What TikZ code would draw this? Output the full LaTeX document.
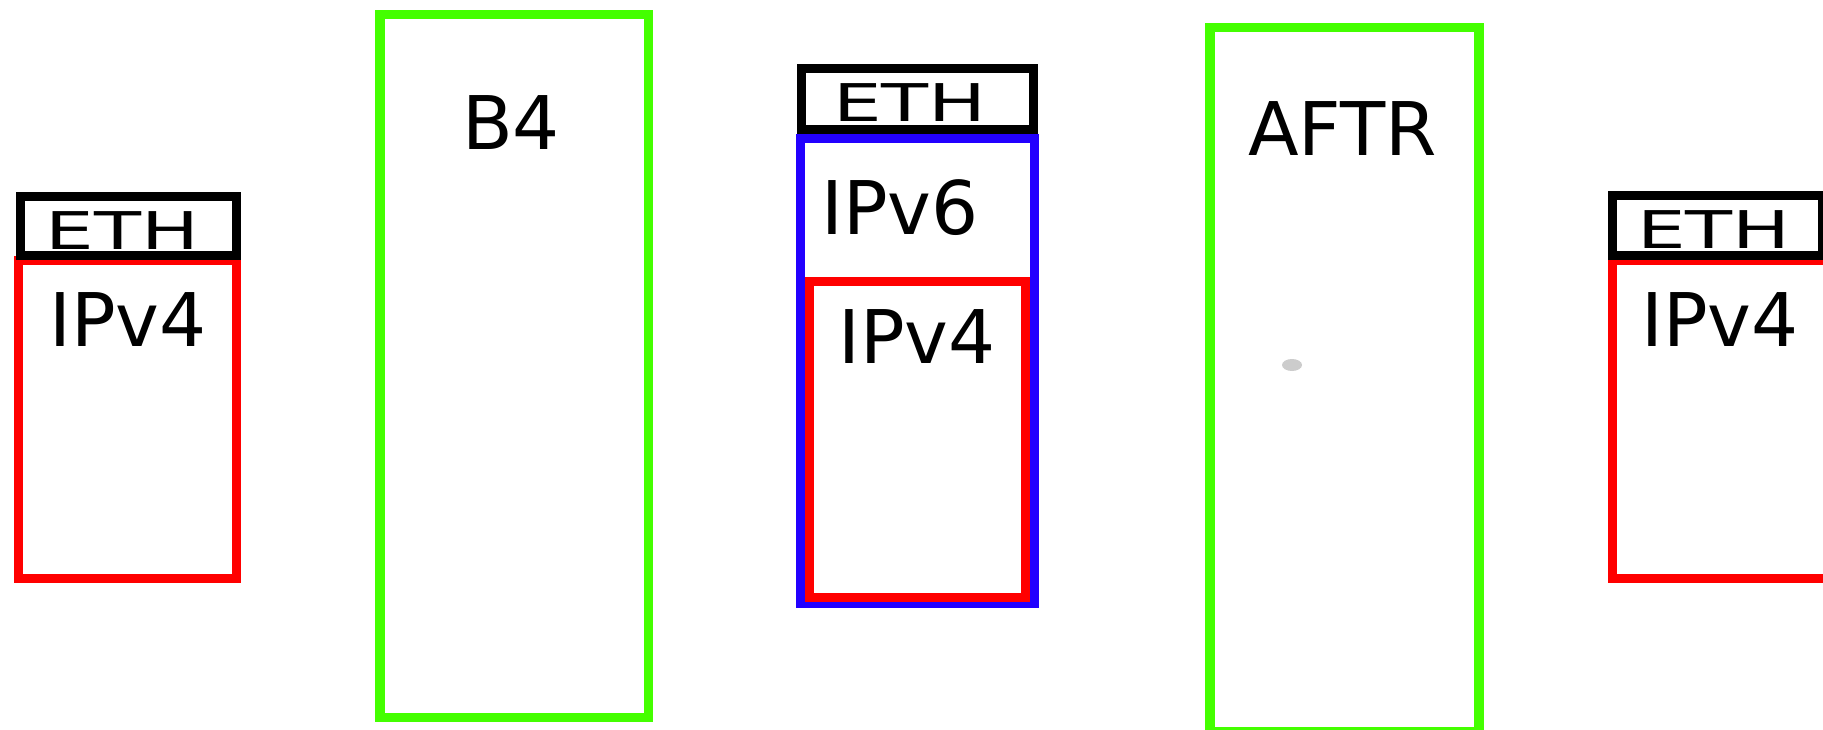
\documentclass[tikz,border=0pt]{standalone}
\usepackage{fontspec}
\setmainfont{DejaVu Sans}
\definecolor{gbox}{RGB}{68,255,0}
\definecolor{bbox}{RGB}{34,0,255}
\definecolor{rbox}{RGB}{255,0,0}
\definecolor{dotgray}{RGB}{204,204,204}
\tikzset{
  ethbox/.style={draw=black, line width=9pt},
  v4box/.style={draw=rbox, line width=9pt},
  v6box/.style={draw=bbox, line width=9pt},
  nodebox/.style={draw=gbox, line width=9.5pt},
  bigtxt/.style={inner sep=0pt, anchor=base, font=\fontsize{74}{80}\selectfont},
  ethtxt/.style={inner sep=0pt, anchor=base, font=\fontsize{52}{56}\selectfont}
}
\begin{document}
\begin{tikzpicture}[x=1pt,y=-1pt]
\useasboundingbox (0,0) rectangle (1823,730);
\clip (0,0) rectangle (1823,730);
\fill[white] (0,0) rectangle (1823,730);
% left stack
\draw[v4box] (18.5,260) rectangle (236,578);
\draw[ethbox] (20.5,197) rectangle (236,255.5);
\node[ethtxt] (ethL) at (122.5,249) {\scalebox{1.48}[1]{ETH}};
\node[bigtxt] (v4L) at (128,346) {IPv4};
% B4
\draw[nodebox] (379.75,14.75) rectangle (648.25,717.25);
\node[bigtxt] (b4) at (511,150) {B4};
% middle stack
\draw[v6box] (800.5,138.5) rectangle (1034.5,603.5);
\draw[v4box] (809.5,281.5) rectangle (1025.5,597);
\draw[ethbox] (801.5,68.5) rectangle (1033.5,129.5);
\node[ethtxt] (ethM) at (910,122) {\scalebox{1.48}[1]{ETH}};
\node[bigtxt] (v6M) at (900,234) {IPv6};
\node[bigtxt] (v4M) at (917,363) {IPv4};
% AFTR
\draw[nodebox] (1209.75,27.75) rectangle (1478.75,732);
\node[bigtxt] (aftr) at (1342.5,156) {AFTR};
\fill[dotgray] (1292,365) ellipse (10 and 6);
% right stack
\draw[v4box] (1612.5,260) rectangle (1840,578);
\draw[ethbox] (1612.5,195.5) rectangle (1822,255.5);
\node[ethtxt] (ethR) at (1714,248) {\scalebox{1.48}[1]{ETH}};
\node[bigtxt] (v4R) at (1720,346) {IPv4};
\end{tikzpicture}
\end{document}
